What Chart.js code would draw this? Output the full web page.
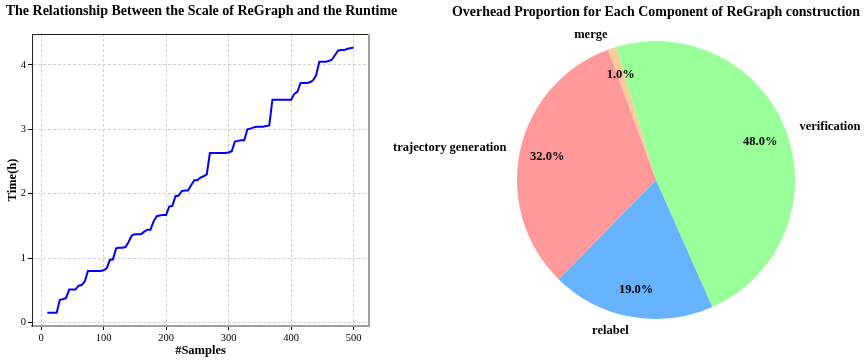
<!DOCTYPE html>
<html><head><meta charset="utf-8">
<script src="https://cdn.jsdelivr.net/npm/chart.js@4"></script>
<style>
html,body{margin:0;padding:0;background:#fff;width:868px;height:362px;overflow:hidden}
#c1{position:absolute;left:0;top:0}
#c2{position:absolute;left:380px;top:0}
</style></head><body>
<canvas id="c1" width="403" height="362"></canvas>
<canvas id="c2" width="488" height="362"></canvas>
<script>
const samples = [10,15,20,25,30,35,40,45,50,55,60,65,70,75,80,85,90,95,100,105,
  110,115,120,125,130,135,140,145,150,155,160,165,170,175,180,185,190,195,200,205,
  210,215,220,225,230,235,240,245,250,255,260,265,270,275,280,285,290,295,300,305,
  310,315,320,325,330,335,340,345,350,355,360,365,370,375,380,385,390,395,400,405,
  410,415,420,425,430,435,440,445,450,455,460,465,470,475,480,485,490,495,500];
const runtimeHours = [0.15,0.15,0.15,0.15,0.35,0.36,0.38,0.51,0.51,0.51,
  0.57,0.58,0.64,0.80,0.80,0.80,0.80,0.80,0.81,0.84,
  0.97,0.98,1.15,1.16,1.16,1.17,1.25,1.35,1.37,1.37,
  1.37,1.41,1.44,1.44,1.57,1.65,1.66,1.67,1.67,1.80,
  1.81,1.96,1.97,2.04,2.05,2.05,2.13,2.21,2.21,2.25,
  2.27,2.30,2.63,2.63,2.63,2.63,2.63,2.63,2.64,2.66,
  2.81,2.82,2.83,2.83,3.00,3.01,3.03,3.04,3.04,3.04,
  3.05,3.06,3.46,3.46,3.46,3.46,3.46,3.46,3.46,3.55,
  3.58,3.72,3.72,3.72,3.73,3.76,3.84,4.05,4.05,4.05,
  4.06,4.08,4.15,4.22,4.23,4.23,4.25,4.26,4.27];
const xTicks = [0,100,200,300,400,500];
const yTicks = [0,1,2,3,4];
const components = ['merge','verification','relabel','trajectory generation'];
const shares = [1,48,19,32];
const sliceColors = ['#ffcc99','#99ff99','#66b3ff','#ff9999'];

const serif = "'Liberation Serif','Times New Roman',Times,serif";

const framePlugin = {
  id:'frame',
  afterDatasetsDraw(chart){
    const {ctx, chartArea:a} = chart;
    ctx.save();
    ctx.strokeStyle = '#222'; ctx.lineWidth = 1;
    ctx.beginPath(); ctx.moveTo(a.left, a.top+0.5); ctx.lineTo(a.right, a.top+0.5); ctx.stroke();
    ctx.strokeStyle = '#a0a0a0'; ctx.lineWidth = 2;
    ctx.beginPath(); ctx.moveTo(a.right, a.top); ctx.lineTo(a.right, a.bottom+1); ctx.stroke();
    ctx.restore();
  }
};

new Chart(document.getElementById('c1'), {
  type:'line',
  data:{datasets:[{
    data: samples.map((s,i)=>({x:s, y:runtimeHours[i]})),
    borderColor:'#0000ff', borderWidth:2, pointRadius:0, tension:0, fill:false
  }]},
  options:{
    responsive:false, animation:false, devicePixelRatio:1,
    layout:{padding:0},
    plugins:{
      legend:{display:false}, tooltip:{enabled:false},
      title:{display:true, text:'The Relationship Between the Scale of ReGraph and the Runtime',
        font:{family:serif,size:14,weight:'bold'}, color:'#000', padding:{top:3,bottom:14.2}}
    },
    scales:{
      x:{type:'linear', min:-14.5, max:524.5,
        afterBuildTicks:s=>{s.ticks = xTicks.map(v=>({value:v}));},
        afterFit:s=>{s.height = 36;},
        grid:{color:'#d0d0d0', tickColor:'#000', tickLength:4, tickWidth:1, tickBorderDash:[]},
        border:{display:true, color:'#a0a0a0', width:2, dash:[3,2]},
        ticks:{font:{family:serif,size:10.5}, color:'#000', padding:2, maxRotation:0, autoSkip:false},
        title:{display:true, text:'#Samples', font:{family:serif,size:12.5,weight:'bold'}, color:'#000', padding:{top:0,bottom:3.5}}
      },
      y:{type:'linear', min:-0.056, max:4.48,
        afterBuildTicks:s=>{s.ticks = yTicks.map(v=>({value:v}));},
        afterFit:s=>{s.width = 32;},
        grid:{color:'#d0d0d0', tickColor:'#000', tickLength:4, tickWidth:1, tickBorderDash:[]},
        border:{display:true, color:'#222', width:1, dash:[3,2]},
        ticks:{font:{family:serif,size:10.5}, color:'#000', padding:2},
        title:{display:true, text:'Time(h)', font:{family:serif,size:12.5,weight:'bold'}, color:'#000', padding:{top:5.5,bottom:0}}
      },
      yRight:{type:'linear', position:'right', display:true, min:0, max:1,
        afterFit:s=>{s.width = 34;},
        grid:{display:false, drawTicks:false}, border:{display:false}, ticks:{display:false}}
    }
  },
  plugins:[framePlugin]
});

const pieLabels = {
  id:'pieLabels',
  afterDatasetsDraw(chart){
    const {ctx} = chart;
    const meta = chart.getDatasetMeta(0);
    const vals = chart.data.datasets[0].data;
    const total = vals.reduce((a,b)=>a+b,0);
    ctx.save();
    ctx.font = 'bold 12.5px ' + serif;
    ctx.fillStyle = '#000';
    ctx.textBaseline = 'middle';
    meta.data.forEach((arc,i)=>{
      const p = arc.getProps(['x','y','startAngle','endAngle','outerRadius'], true);
      const mid = (p.startAngle + p.endAngle)/2;
      const c = Math.cos(mid), s = Math.sin(mid);
      ctx.textAlign = c > 0 ? 'left' : 'right';
      ctx.fillText(chart.data.labels[i], p.x + c*1.1*p.outerRadius, p.y + s*1.1*p.outerRadius);
      ctx.textAlign = 'center';
      ctx.fillText((vals[i]/total*100).toFixed(1)+'%', p.x + c*0.8*p.outerRadius, p.y + s*0.8*p.outerRadius);
    });
    ctx.restore();
  }
};

new Chart(document.getElementById('c2'), {
  type:'pie',
  data:{labels:components, datasets:[{data:shares, backgroundColor:sliceColors, borderWidth:0}]},
  options:{
    responsive:false, animation:false, devicePixelRatio:1, rotation:-20.3,
    layout:{padding:{left:72,right:8,top:0,bottom:43}},
    plugins:{
      legend:{display:false}, tooltip:{enabled:false},
      title:{display:true, text:'Overhead Proportion for Each Component of ReGraph construction',
        font:{family:serif,size:14,weight:'bold'}, color:'#000', padding:{top:3.6,bottom:20.6}}
    }
  },
  plugins:[pieLabels]
});
</script>
</body></html>
